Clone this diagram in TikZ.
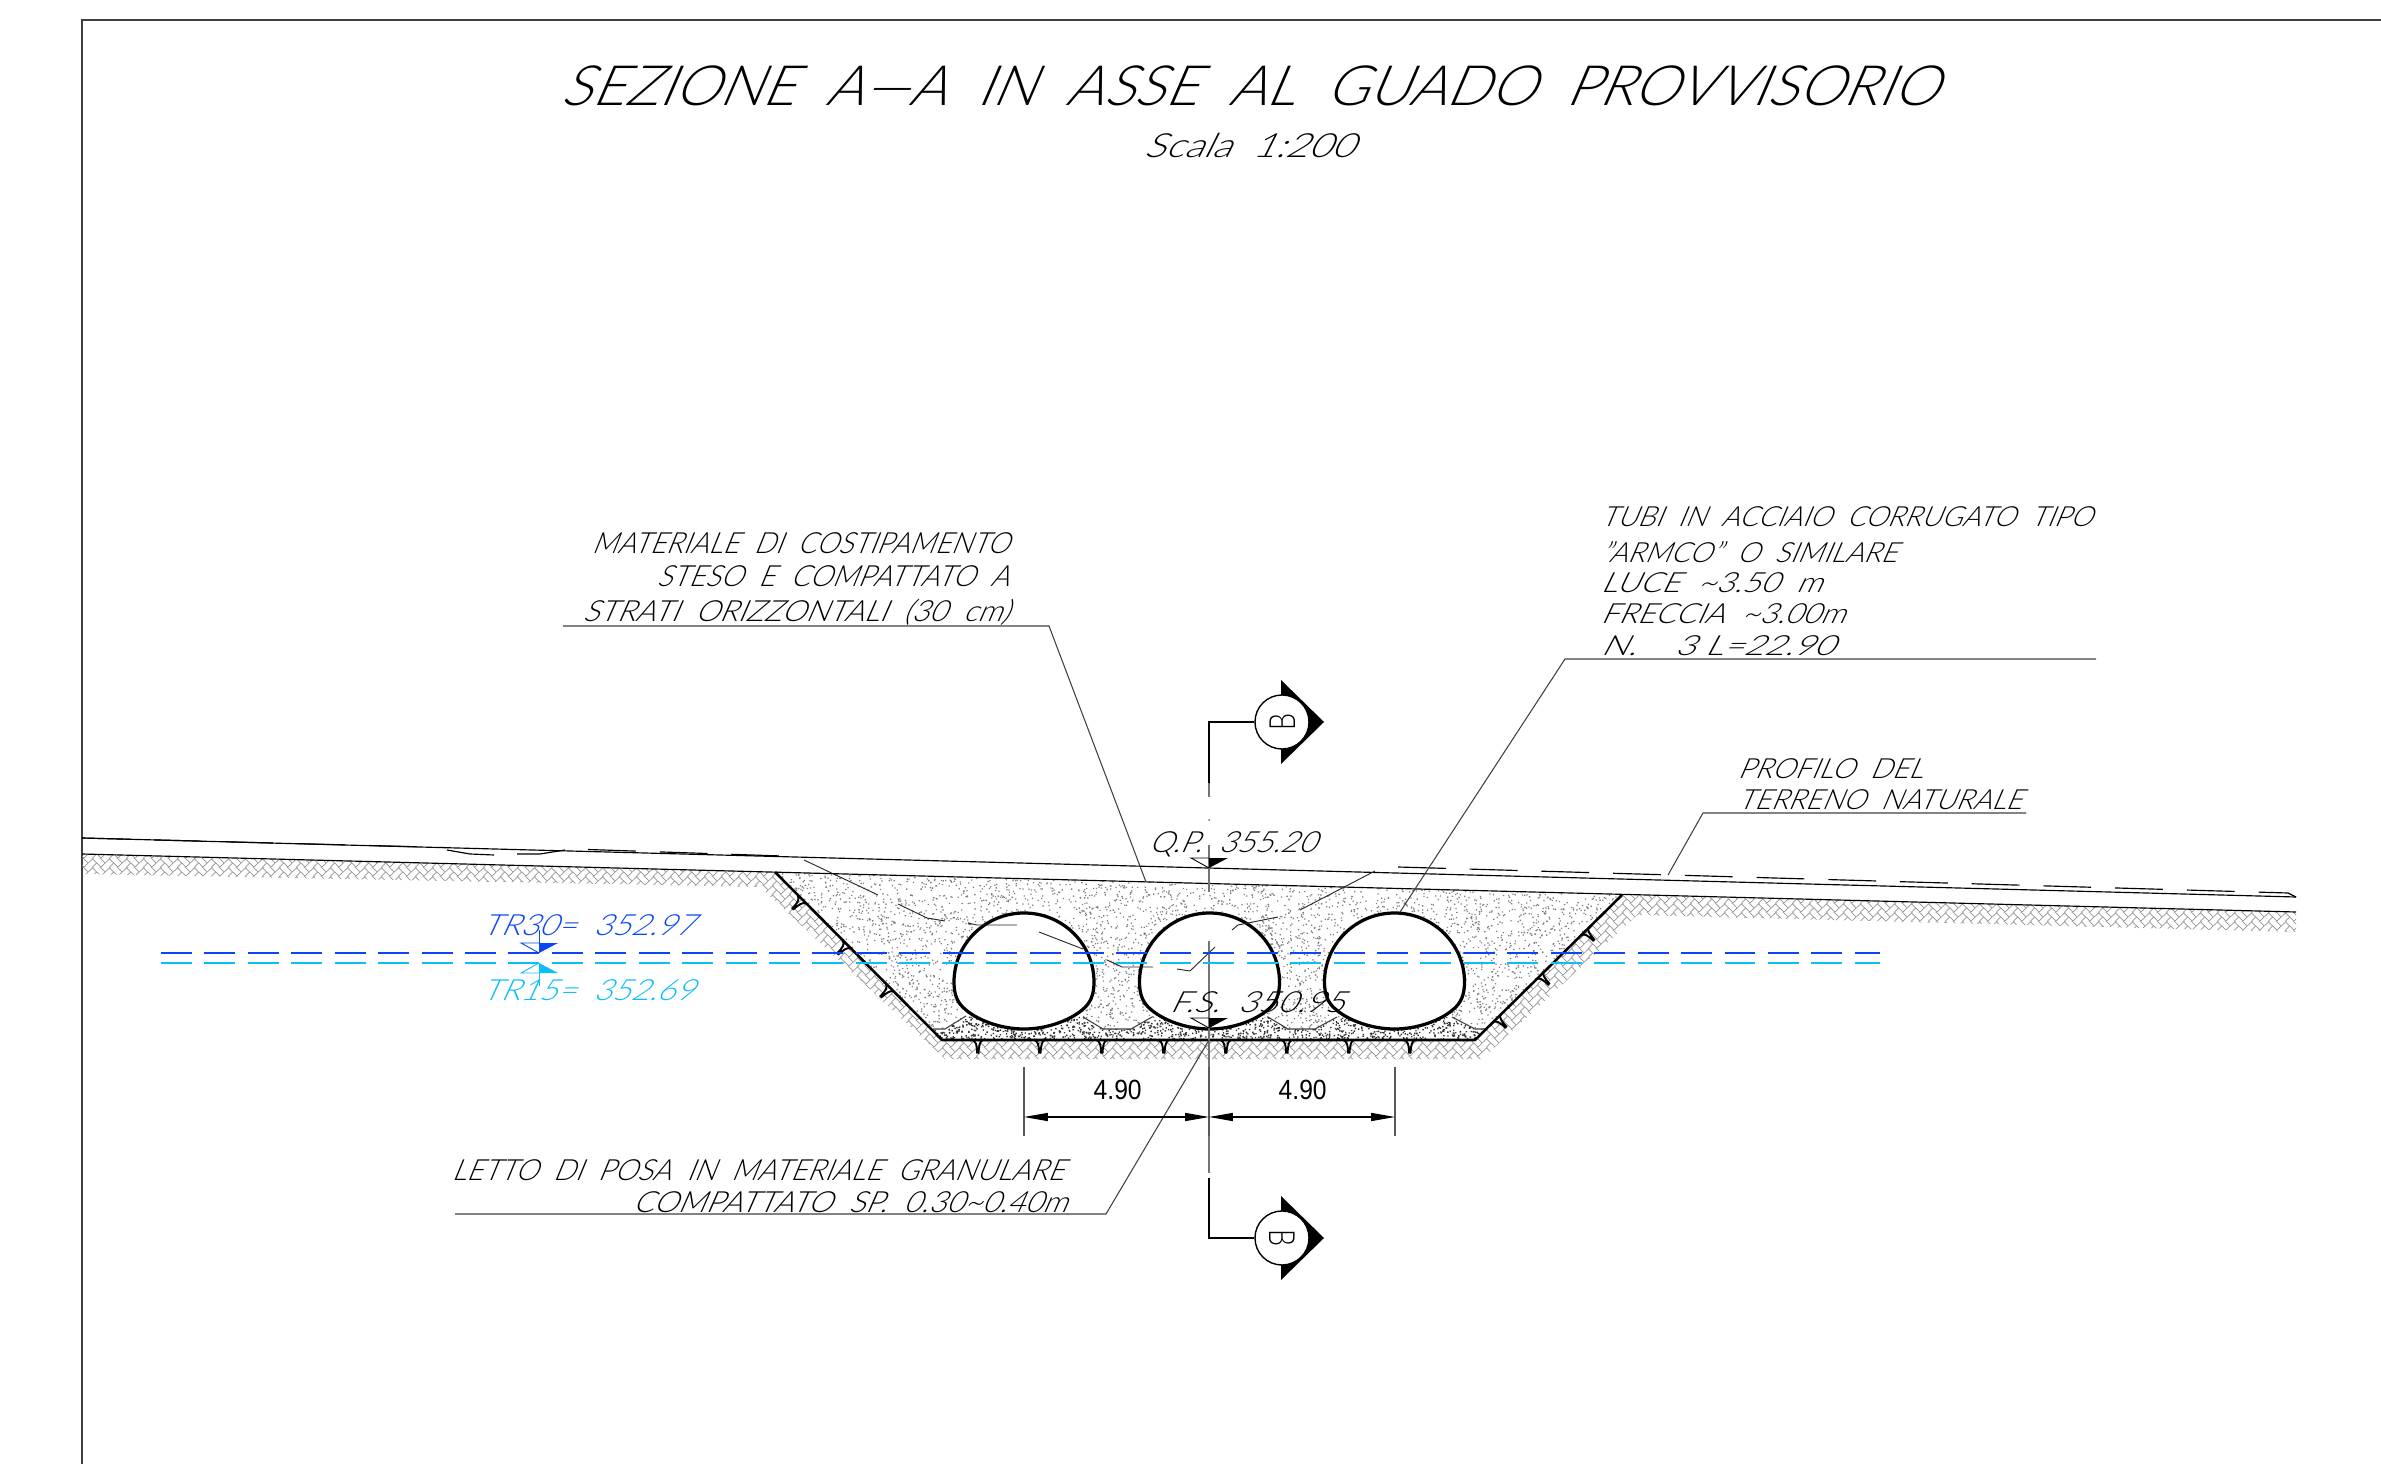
\documentclass[tikz,border=0pt]{standalone}
\usepackage{graphicx}
\usepackage{fontspec}
\usetikzlibrary{arrows.meta,patterns}
\newfontfamily\cadfont[FakeSlant=0.42]{Lato Light}
\newfontfamily\markfont{Lato Light}
\newfontfamily\dimfont{Liberation Sans}
\definecolor{water30}{HTML}{0A46F5}
\definecolor{water15}{HTML}{0ABEFA}
\newlength\cadpx
\setlength\cadpx{0.01cm}
\newcommand{\fittext}[4][\cadfont]{\resizebox{#2\cadpx}{#3\cadpx}{\raisebox{0pt}[7.2pt][0pt]{\fontsize{10}{12}\selectfont#1#4}}}
\pgfdeclarepatternformonly{herring}{\pgfpointorigin}{\pgfqpoint{4.83pt}{2.415pt}}{\pgfqpoint{4.83pt}{2.415pt}}{
  \pgfsetlinewidth{0.2pt}
  \foreach \dx/\dy in {0/0,0/-2.415,4.83/0,4.83/-2.415} {
    \pgfpathmoveto{\pgfpoint{\dx+1.207}{\dy+1.207}}
    \pgfpathlineto{\pgfpoint{\dx-2.415}{\dy+4.83}}
    \pgfusepath{stroke}
  }
  \foreach \dy in {0,-2.415} {
    \pgfpathmoveto{\pgfpoint{0}{\dy}}
    \pgfpathlineto{\pgfpoint{3.62}{\dy+3.62}}
    \pgfusepath{stroke}
  }
}
\tikzset{
  cadlabel/.style = {inner sep = 0, anchor = base west},
  leader/.style = {line width = 0.3pt, black!75},
  terrain/.style = {line width = 0.33pt, black},
  bank/.style = {line width = 0.72pt, black, line join = round},
  wavy/.style = {line width = 0.26pt, black!85},
  axisline/.style = {line width = 0.42pt, black!55},
  bracket/.style = {line width = 0.55pt, black},
  extline/.style = {line width = 0.35pt, black!65},
  dimline/.style = {line width = 0.3pt, black, {Triangle[length=6.8pt,width=2.3pt]}-{Triangle[length=6.8pt,width=2.3pt]}},
  waterline/.style = {line width = 0.45pt, dash pattern = on 8.8pt off 3.55pt},
  arch/.pic = {
    \filldraw[fill = white, draw = black, line width = 0.92pt]
      (-70,0) arc[start angle = 180, end angle = 360, x radius = 70, y radius = 69]
      .. controls (70,12) and (67,21) .. (58,28)
      .. controls (45,39) and (22,47) .. (0,47)
      .. controls (-22,47) and (-45,39) .. (-58,28)
      .. controls (-67,21) and (-70,12) .. (-70,0) -- cycle;
  },
  nail/.pic = {
    \draw[line width = 0.55pt, line cap = round]
      (-6,0) .. controls (-2,1) and (-1,5) .. (-1,13)
      (5,0) .. controls (2,1) and (1,5) .. (0.5,13);
  },
  levelmark/.pic = {
    \draw[line width = 0.25pt] (0,0) -- (-18,-10) -- (0,-10);
    \fill (0,0) -- (19,-10) -- (0,-10) -- cycle;
  }
}
\begin{document}
\begin{tikzpicture}[x = 0.01cm, y = -0.01cm]
  \useasboundingbox (0,0) rectangle (2381,1464);
  \draw[line width = 0.3pt, black!75] (2381,20) -- (82,20) -- (82,1464);

  \pattern[pattern = herring, pattern color = black!42]
    (82,854) -- (775,872) -- (942,1040) -- (1475,1040) -- (1622,895) -- (2296,912) -- (2296,932)
    -- (1637,915) -- (1482,1059) -- (945,1059) -- (760,887) -- (82,874) -- cycle;

  \pgfmathsetseed{4711}
  \begin{scope}
    \clip (775,872) -- (1622,895) -- (1487,1029) -- (1475,1029) -- (1452,1017) -- (1337,1017)
      -- (1315,1029) -- (1288,1029) -- (1268,1017) -- (1152,1017) -- (1131,1029) -- (1103,1029)
      -- (1083,1017) -- (966,1016) -- (945,1029) -- (933,1029) -- cycle;
    \foreach \j in {1,...,48} {
      \fill[black!50] \foreach \i in {1,...,125} { ({775+rnd*850},{872+rnd*160}) rectangle ++(1.3,1.3) };
    }
  \end{scope}
  \begin{scope}
    \clip (933,1029) -- (945,1029) -- (966,1016) -- (1083,1017) -- (1103,1029) -- (1131,1029)
      -- (1152,1017) -- (1268,1017) -- (1288,1029) -- (1315,1029) -- (1337,1017) -- (1452,1017)
      -- (1475,1029) -- (1487,1029) -- (1475,1040) -- (942,1040) -- cycle;
    \foreach \j in {1,...,12} {
      \fill[black!80] \foreach \i in {1,...,125} { ({933+rnd*555},{1016+rnd*24}) rectangle ++(1.4,1.4) };
    }
  \end{scope}

  \draw[leader] (933,1029) -- (945,1029) -- (966,1016);
  \draw[leader] (1083,1017) -- (1103,1029) -- (1131,1029) -- (1152,1017);
  \draw[leader] (1268,1017) -- (1288,1029) -- (1315,1029) -- (1337,1017);
  \draw[leader] (1452,1017) -- (1475,1029) -- (1487,1029);

  \foreach \x in {1024,1209.5,1394.5} {
    \pic at (\x,982) {arch};
  }

  \draw[terrain] (82,838) -- (2296,897);
  \draw[terrain] (82,854) -- (2296,912);
  \draw[terrain, dash pattern = on 13.6pt off 6.8pt] (82,838) -- (445,847.5);
  \draw[terrain] (447,850) -- (470,854) -- (494,855);
  \draw[terrain] (517,854) -- (540,854) -- (565,850);
  \draw[terrain, dash pattern = on 13.6pt off 6.8pt] (588,849.5) -- (782,856);
  \draw[terrain, dash pattern = on 13.6pt off 6.8pt] (1398,867) -- (2288,893) -- (2296,897);

  \draw[bank] (775,872) -- (942,1040) -- (1475,1040) -- (1622,895);
  \foreach \x in {978,1040,1102,1164,1226,1287,1349,1410} {
    \pic at (\x,1040) {nail};
  }
  \foreach \x/\y in {802/900,847/945,890/988} {
    \pic[rotate = -45] at (\x,\y) {nail};
  }
  \foreach \x/\y in {1497/1018,1540/975,1585/931} {
    \pic[rotate = 45] at (\x,\y) {nail};
  }

  \draw[wavy] (804,860) -- (878,895);
  \draw[wavy] (898,904) -- (927,918) -- (945,921);
  \draw[wavy] (968,923) -- (977,925) -- (1017,925);
  \draw[wavy] (1039,932) -- (1083,949);
  \draw[wavy] (1107,960) -- (1122,967) -- (1153,967);
  \draw[wavy] (1177,969) -- (1190,971) -- (1215,947);
  \draw[wavy] (1232,930) -- (1238,925) -- (1278,917);
  \draw[wavy] (1300,910) -- (1375,871);

  \draw[axisline] (1209,783) -- (1209,797);
  \fill[black!55] (1209,820) circle (1);
  \draw[axisline] (1209,845) -- (1209,892);
  \draw[axisline] (1209,941) -- (1209,1173);

  \draw[waterline, water30] (161,953) -- (1880,953);
  \draw[waterline, water15] (161,963) -- (1880,963);

  \foreach \name/\y/\rot in {Btop/722/90,Bbottom/1238/-90} {
    \fill (1281,\y-42) -- (1324,\y) -- (1281,\y+42) -- cycle;
    \node[circle, draw, fill = white, line width = 0.4pt, inner sep = 0, minimum size = 0.54cm, rotate = \rot] (\name) at (1282,\y) {\fittext[\markfont]{17}{26}{B}};
  }
  \coordinate (Ctop) at (1209,722);
  \coordinate (Cbottom) at (1209,1238);
  \draw[bracket] (1209,783) -- (Ctop) -- (Btop);
  \draw[bracket] (1209,1178) -- (Cbottom) -- (Bbottom);

  \pic at (1209,868) {levelmark};
  \pic at (1209,1028) {levelmark};
  \pic[water30] at (539,953) {levelmark};
  \pic[water15, yscale = -1] at (539,963) {levelmark};
  \draw[line width = 0.25pt, water30] (539,930) -- (539,953);
  \draw[line width = 0.25pt, water15] (539,963) -- (539,986);

  \node[cadlabel] (title) at (560,106) {\fittext{1376}{40}{SEZIONE~~A—A~~IN~~ASSE~~AL~~GUADO~~PROVVISORIO}};
  \node[cadlabel] (scale) at (1143,158) {\fittext{210}{24}{Scala~~1:200}};

  \node[cadlabel] (fill1) at (591,554) {\fittext{417}{21}{MATERIALE~~DI~~COSTIPAMENTO}};
  \node[cadlabel] (fill2) at (656,587) {\fittext{352}{21}{STESO~~E~~COMPATTATO~~A}};
  \node[cadlabel] (fill3) at (582,622) {\fittext{426}{21}{STRATI~~ORIZZONTALI~~(30~~cm)}};
  \coordinate (fillA) at (563,626);
  \coordinate (fillB) at (1049,626);
  \coordinate (fillC) at (1146,882);
  \draw[leader] (fillA) -- (fillB) -- (fillC);

  \node[cadlabel] (pipe1) at (1600,527) {\fittext{491}{20}{TUBI~~IN~~ACCIAIO~~CORRUGATO~~TIPO}};
  \node[cadlabel] (pipe2) at (1600,563) {\fittext{296}{20}{”ARMCO”~~O~~SIMILARE}};
  \node[cadlabel] (pipe3) at (1600,593) {\fittext{221}{20}{LUCE~~\symbol{126}3.50~~m}};
  \node[cadlabel] (pipe4) at (1600,624) {\fittext{244}{20}{FRECCIA~~\symbol{126}3.00m}};
  \node[cadlabel] (pipe5) at (1600,656) {\fittext{233}{20}{N.~~~~3~L=22.90}};
  \coordinate (pipeA) at (2096,659);
  \coordinate (pipeB) at (1565,659);
  \coordinate (pipeC) at (1400,912);
  \draw[leader] (pipeA) -- (pipeB) -- (pipeC);

  \node[cadlabel] (ground1) at (1737,778) {\fittext{185}{20}{PROFILO~~DEL}};
  \node[cadlabel] (ground2) at (1737,810) {\fittext{284}{20}{TERRENO~~NATURALE}};
  \coordinate (groundA) at (2026,813);
  \coordinate (groundB) at (1703,813);
  \coordinate (groundC) at (1668,875);
  \draw[leader] (groundA) -- (groundB) -- (groundC);

  \node[cadlabel] (bed1) at (451,1180) {\fittext{612}{21}{LETTO~~DI~~POSA~~IN~~MATERIALE~~GRANULARE}};
  \node[cadlabel] (bed2) at (632,1212) {\fittext{434}{21}{COMPATTATO~~SP.~~0.30\symbol{126}0.40m}};
  \coordinate (bedA) at (455,1214);
  \coordinate (bedB) at (1106,1214);
  \coordinate (bedC) at (1209,1040);
  \draw[leader] (bedA) -- (bedB) -- (bedC);

  \node[cadlabel] (qp) at (1148,852) {\fittext{167}{21}{Q.P.~~355.20}};
  \node[cadlabel] (fs) at (1169,1012) {\fittext{174}{21}{F.S.~~350.95}};
  \node[cadlabel, text = water30] (tr30) at (481,935) {\fittext{212}{21}{TR30=~~352.97}};
  \node[cadlabel, text = water15] (tr15) at (481,1000) {\fittext{212}{21}{TR15=~~352.69}};

  \coordinate (ext1) at (1024,1067);
  \coordinate (ext2) at (1209,1067);
  \coordinate (ext3) at (1395,1067);
  \coordinate (dim1) at (1024,1117);
  \coordinate (dim2) at (1209,1117);
  \coordinate (dim3) at (1395,1117);
  \draw[extline] (ext1) -- ++(0,69);
  \draw[extline] (ext2) -- ++(0,69);
  \draw[extline] (ext3) -- ++(0,69);
  \draw[dimline] (dim1) -- (dim2);
  \draw[dimline] (dim2) -- (dim3);
  \node[cadlabel] (dist1) at (1093,1099) {\fittext[\dimfont]{48}{20}{4.90}};
  \node[cadlabel] (dist2) at (1278,1099) {\fittext[\dimfont]{48}{20}{4.90}};
\end{tikzpicture}
\end{document}
